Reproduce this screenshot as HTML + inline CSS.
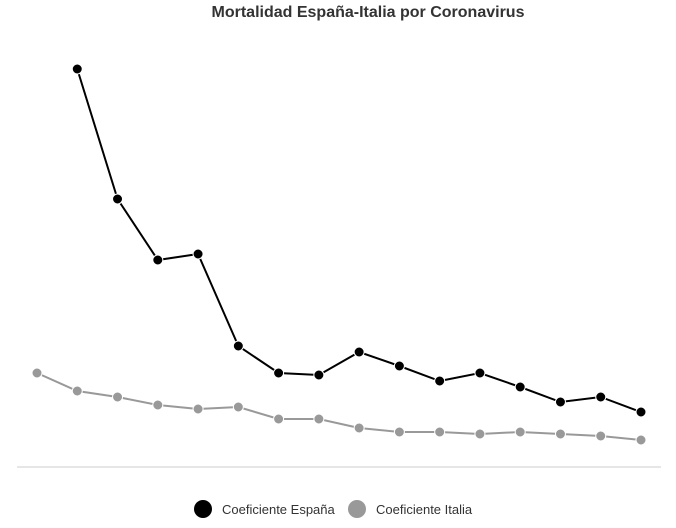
<!DOCTYPE html>
<html><head><meta charset="utf-8"><style>
body{margin:0;background:#fff;font-family:"Liberation Sans",sans-serif}
svg{display:block}
</style></head><body>
<svg id="chart" width="676" height="528">
<text x="368" y="17" text-anchor="middle" font-size="16" font-weight="bold" fill="#333">Mortalidad España-Italia por Coronavirus</text>
<line x1="17" y1="467" x2="661" y2="467" stroke="#ccc" stroke-width="1"/>
<g id="series"></g>
<g>
<g><circle cx="203" cy="509" r="9" fill="#000"/><text x="222" y="514" font-size="13" fill="#333">Coeficiente España</text></g>
<g><circle cx="357" cy="509" r="9" fill="#999"/><text x="376" y="514" font-size="13" fill="#333">Coeficiente Italia</text></g>
</g>
</svg>
<script>
const categories = [1,2,3,4,5,6,7,8,9,10,11,12,13,14,15,16];
const espana = [null,99.5,67,51.75,53.25,30.25,23.5,23,28.75,25.25,21.5,23.5,20,16.25,17.5,13.75];
const italia = [23.5,19,17.5,15.5,14.5,15,12,12,9.75,8.75,8.75,8.25,8.75,8.25,7.75,6.75];
const NS="http://www.w3.org/2000/svg";
function xs(i){return 37+i*(641-37)/(categories.length-1);}
function ys(v){return 467-v*4;}
const g=document.getElementById('series');
function draw(data,color,name){
  const pts=[];data.forEach((v,i)=>{if(v!==null)pts.push([xs(i),ys(v)]);});
  const p=document.createElementNS(NS,'polyline');
  p.setAttribute('points',pts.map(a=>a.join(',')).join(' '));
  p.setAttribute('fill','none');p.setAttribute('stroke',color);p.setAttribute('stroke-width','2');
  
  
  g.appendChild(p);
  pts.forEach(a=>{
    const c=document.createElementNS(NS,'circle');
    c.setAttribute('cx',a[0]);c.setAttribute('cy',a[1]);c.setAttribute('r','5');
    c.setAttribute('fill',color);c.setAttribute('stroke','#fff');c.setAttribute('stroke-width','1');
    
    
    g.appendChild(c);
  });
}
draw(italia,'#999','italia');
draw(espana,'#000','espana');
</script>
</body></html>
